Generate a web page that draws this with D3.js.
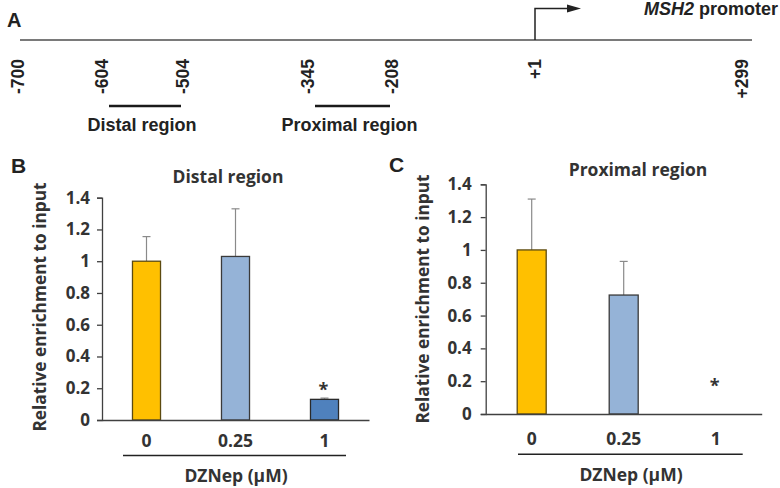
<!DOCTYPE html>
<html><head><meta charset="utf-8">
<script src="https://cdn.jsdelivr.net/npm/d3@7"></script>
<style>body{margin:0;background:#fff}svg{display:block}</style>
</head><body><svg id="c" width="780" height="488"></svg>
<script>
// ---- data ----
const positions = [-700, -604, -504, -345, -208, 1, 299];
const positionLabels = ["-700", "-604", "-504", "-345", "-208", "+1", "+299"];
const regionNames = ["Distal region", "Proximal region"];
const regionStarts = [-604, -345];
const regionEnds = [-504, -208];
const doses = ["0", "0.25", "1"];
const distalMean = [1.0, 1.03, 0.13];
const distalSD = [0.155, 0.30, 0.008];
const distalStar = [null, null, 0.22];
const proximalMean = [1.0, 0.725, 0.0];
const proximalSD = [0.31, 0.205, 0];
const proximalStar = [null, null, 0.20];
const yTicks = [0, 0.2, 0.4, 0.6, 0.8, 1, 1.2, 1.4];
const barColors = ["#FFC000", "#95B3D7", "#4F81BD"];
const barStrokes = ["#5c4a10", "#3a3a3a", "#2a2a2a"];

const svg = d3.select("#c");
const SCH = "'Liberation Sans', Arial, sans-serif";
const CH = "'Open Sans', 'Liberation Sans', sans-serif";

// ---- Panel A: schematic ----
const xs = d3.scaleLinear().domain(positions).range([18, 102, 183, 308, 392, 535, 742]);
const lineY = 40;
svg.append("text").attr("x", 7).attr("y", 27).attr("font-family", SCH).attr("font-weight", 700)
  .attr("font-size", 20).attr("fill", "#222").text("A");
svg.append("line").attr("x1", xs(-700) + 2).attr("x2", xs(299) + 10).attr("y1", lineY).attr("y2", lineY)
  .attr("stroke", "#7a7a7a").attr("stroke-width", 2);
// TSS arrow
const tx = xs(1);
svg.append("path").attr("d", `M${tx},${lineY}V8.5H570`).attr("fill", "none").attr("stroke", "#222").attr("stroke-width", 1.5);
svg.append("path").attr("d", `M567,4.5L581,8.5L567,12.5Z`).attr("fill", "#222");
const mt = svg.append("text").attr("x", 778).attr("y", 15).attr("text-anchor", "end")
  .attr("font-family", SCH).attr("font-weight", 700).attr("font-size", 18).attr("fill", "#222");
mt.append("tspan").attr("font-style", "italic").text("MSH2");
mt.append("tspan").text(" promoter");
// position labels
svg.selectAll("text.pos").data(positions).join("text").attr("class", "pos")
  .attr("transform", d => `translate(${xs(d)},59) rotate(-90)`)
  .attr("dy", "0.35em").attr("text-anchor", "end")
  .attr("font-family", SCH).attr("font-weight", 700).attr("font-size", 17.5).attr("fill", "#222")
  .text((d, i) => positionLabels[i]);
// regions
regionNames.forEach((name, i) => {
  const a = xs(regionStarts[i]) + 7, b = xs(regionEnds[i]) - 2;
  svg.append("line").attr("x1", a).attr("x2", b).attr("y1", 106).attr("y2", 106)
    .attr("stroke", "#1a1a1a").attr("stroke-width", 2.5);
  svg.append("text").attr("x", (a + b) / 2 - 3).attr("y", 131).attr("text-anchor", "middle")
    .attr("font-family", SCH).attr("font-weight", 700).attr("font-size", 18).attr("fill", "#222").text(name);
});

// ---- bar panels ----
function panel(o) {
  const g = svg.append("g");
  const y = d3.scaleLinear().domain([0, 1.4]).range([o.yBase, o.yTop]);
  const x = d3.scaleBand().domain(doses).range([o.xL, o.xR]).paddingInner(0.685).paddingOuter(0.3425);
  // letter
  g.append("text").attr("x", o.letterX).attr("y", o.letterY).attr("font-family", SCH).attr("font-weight", 700)
    .attr("font-size", 21).attr("fill", "#222").text(o.letter);
  // title
  g.append("text").attr("x", o.titleX).attr("y", o.titleY).attr("text-anchor", "middle")
    .attr("font-family", CH).attr("font-weight", 700).attr("font-size", 17.5).attr("fill", "#333").text(o.title);
  // y label
  g.append("text").attr("transform", `translate(${o.ylabX},${o.ylabY}) rotate(-90)`).attr("dy", "0.35em")
    .attr("text-anchor", "middle").attr("font-family", CH).attr("font-weight", 700).attr("font-size", 17.3)
    .attr("fill", "#333").text("Relative enrichment to input");
  // error bars
  const eb = g.append("g");
  o.mean.forEach((m, i) => {
    if (!o.sd[i]) return;
    const cx = x(doses[i]) + x.bandwidth() / 2;
    eb.append("line").attr("x1", cx).attr("x2", cx).attr("y1", y(m)).attr("y2", y(m + o.sd[i]))
      .attr("stroke", "#8a8a8a").attr("stroke-width", 1.2);
    eb.append("line").attr("x1", cx - 4).attr("x2", cx + 4).attr("y1", y(m + o.sd[i])).attr("y2", y(m + o.sd[i]))
      .attr("stroke", "#8a8a8a").attr("stroke-width", 1.2);
  });
  // bars
  g.selectAll("rect").data(o.mean).join("rect")
    .attr("x", (d, i) => x(doses[i])).attr("width", x.bandwidth())
    .attr("y", d => y(d)).attr("height", d => y(0) - y(d))
    .attr("fill", (d, i) => barColors[i]).attr("stroke", (d, i) => barStrokes[i]).attr("stroke-width", 1.3)
    .style("display", d => d > 0 ? null : "none");
  // y axis
  const ya = g.append("g").attr("transform", `translate(${o.xL},0)`)
    .call(d3.axisLeft(y).tickValues(yTicks).tickFormat(d => String(d)).tickSize(5).tickPadding(o.tickPad));
  ya.selectAll("path,line").attr("stroke", "#404040").attr("stroke-width", 1.3);
  ya.selectAll("text").attr("font-family", CH).attr("font-weight", 700).attr("font-size", 17).attr("fill", "#333");
  // x axis
  const xa = g.append("g").attr("transform", `translate(0,${o.yBase})`)
    .call(d3.axisBottom(x).tickSize(0).tickPadding(o.xPad).tickSizeOuter(0));
  xa.select("path").attr("stroke", "#404040").attr("stroke-width", 1.3);
  xa.selectAll("text").attr("font-family", CH).attr("font-weight", 700).attr("font-size", 17.5).attr("fill", "#333");
  // stars
  o.star.forEach((s, i) => {
    if (s == null) return;
    g.append("text").attr("x", x(doses[i]) + x.bandwidth() / 2 - 1).attr("y", y(s) + 11).attr("text-anchor", "middle")
      .attr("font-family", CH).attr("font-weight", 700).attr("font-size", 18).attr("fill", "#333").text("*");
  });
  // underline + label
  g.append("line").attr("x1", o.ulL).attr("x2", o.ulR).attr("y1", o.ulY).attr("y2", o.ulY)
    .attr("stroke", "#222").attr("stroke-width", 1.5);
  g.append("text").attr("x", o.dzX).attr("y", o.dzY).attr("text-anchor", "middle")
    .attr("font-family", CH).attr("font-weight", 700).attr("font-size", 17.5).attr("fill", "#333").text("DZNep (µM)");
}

panel({letter: "B", letterX: 11, letterY: 173, title: "Distal region", titleX: 228, titleY: 183,
  ylabX: 40, ylabY: 307, xL: 102, xR: 369, yBase: 420, yTop: 197.7, tickPad: 7,
  xPad: 15, mean: distalMean, sd: distalSD, star: distalStar,
  ulL: 123, ulR: 346, ulY: 455.5, dzX: 236, dzY: 482});
panel({letter: "C", letterX: 389, letterY: 172, title: "Proximal region", titleX: 638, titleY: 176,
  ylabX: 423, ylabY: 299, xL: 485.7, xR: 761.7, yBase: 414, yTop: 184.3, tickPad: 9,
  xPad: 19, mean: proximalMean, sd: proximalSD, star: proximalStar,
  ulL: 518, ulR: 742.7, ulY: 454.3, dzX: 631, dzY: 481});
</script></body></html>
